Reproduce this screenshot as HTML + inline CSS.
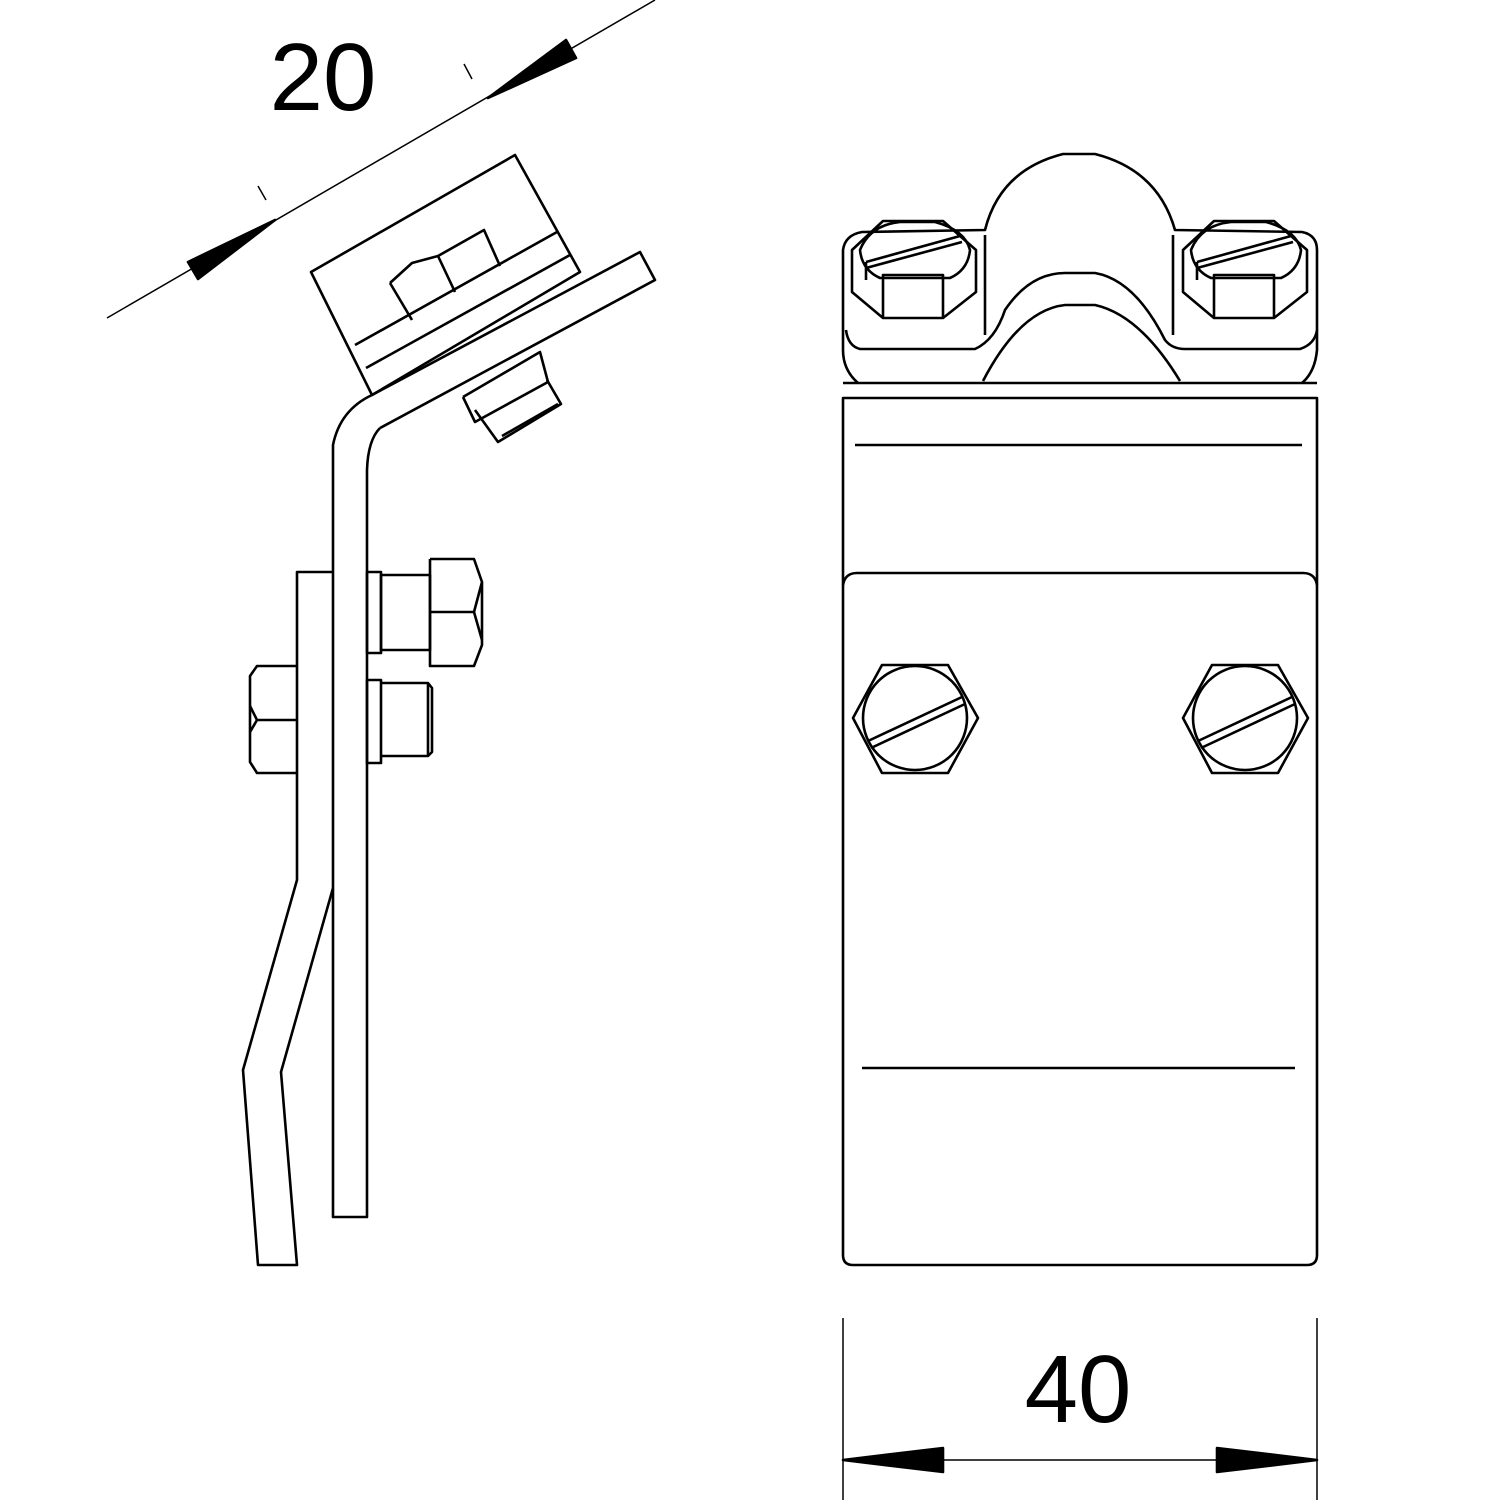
<!DOCTYPE html>
<html><head><style>html,body{margin:0;padding:0;background:#fff}svg{display:block}</style></head>
<body>
<svg width="1500" height="1500" viewBox="0 0 1500 1500" xmlns="http://www.w3.org/2000/svg">
<g fill="none" stroke="#000" stroke-width="2.6" stroke-linejoin="round">
<!-- dimension 20 -->
<line x1="107" y1="318" x2="655" y2="0" stroke-width="1.5"/>
<line x1="258" y1="186" x2="266" y2="200" stroke-width="1.5"/>
<line x1="464" y1="64" x2="472" y2="79" stroke-width="1.5"/>
<polygon points="275,220 188,262 198,279" fill="#000"/>
<polygon points="488,98 566,40 576,58" fill="#000"/>
<!-- block -->
<polygon points="311,272 515,155 580,272 372,395"/>
<line x1="355" y1="345" x2="557" y2="232"/>
<line x1="366" y1="368" x2="570" y2="255"/>
<!-- nut on block -->
<polyline points="390,283 412,320"/>
<polyline points="390,283 412,263 438,256 484,230 500,266"/>
<line x1="438" y1="256" x2="455" y2="292"/>
<!-- plate top -->
<polyline points="372,395 640,252 655,280 380,428"/>
<!-- bent bar -->
<path d="M372,395 Q340,410 333,445 L333,1217 L367,1217 L367,470 Q368,440 380,428"/>
<!-- bolt below plate -->
<polyline points="463,397 540,352 548,382 475,422 463,397"/>
<polyline points="475,410 498,442 561,404 547,380"/>
<line x1="502" y1="436" x2="558" y2="404"/>
<!-- lower plate -->
<polyline points="333,572 297,572 297,880 243,1070 258,1265 297,1265 281,1072 333,888"/>
<!-- upper bolt -->
<rect x="367" y="572" width="14" height="81"/>
<rect x="381" y="575" width="49" height="75"/>
<polyline points="430,559 474,559 482,582 482,645 474,666 430,666 430,559"/>
<polyline points="430,612 474,612 482,582"/>
<line x1="474" y1="612" x2="482" y2="640"/>
<!-- lower bolt -->
<rect x="367" y="680" width="14" height="83"/>
<polyline points="381,683 428,683 432,688 432,752 428,756 381,756"/>
<line x1="428" y1="683" x2="428" y2="756"/>
<!-- left nut -->
<polyline points="297,666 257,666 250,676 250,762 257,773 297,773"/>
<polyline points="297,720 257,720 250,706"/>
<line x1="257" y1="720" x2="250" y2="732"/>

<!-- right view body -->
<path d="M843,398 L1317,398 L1317,1255 Q1317,1265 1307,1265 L853,1265 Q843,1265 843,1255 Z"/>
<line x1="843" y1="383" x2="1317" y2="383"/>
<line x1="855" y1="445" x2="1302" y2="445"/>
<path d="M843,585 Q845,573 857,573 L1303,573 Q1315,573 1317,585"/>
<line x1="862" y1="1068" x2="1295" y2="1068"/>
<!-- top bracket outer -->
<path d="M858,383 Q843,370 843,350 L843,250 Q845,235 862,232 L985,230 Q1000,170 1063,154 L1095,154 Q1158,170 1175,230 L1302,232 Q1317,235 1317,250 L1317,350 Q1315,372 1302,383"/>
<path d="M846,330 Q848,346 860,349 L975,349 Q995,340 1005,310 Q1030,273 1065,273 L1095,273 Q1135,280 1165,340 Q1172,349 1185,349 L1300,349 Q1315,344 1317,330"/>
<path d="M983,381 Q1020,310 1065,305 L1095,305 Q1140,315 1180,381"/>
<line x1="985" y1="235" x2="985" y2="335"/>
<line x1="1173" y1="235" x2="1173" y2="335"/>
<!-- top bolts -->
<g id="tb">
<polygon points="852,250 852,292 883,318 943,318 976,292 976,250 943,221 883,221"/>
<path d="M860,250 Q870,225 900,222 L935,222 Q965,230 970,250 Q968,270 950,278 L880,278 Q862,270 860,250Z"/>
<polyline points="883,318 883,275 943,275 943,318"/>
<line x1="866" y1="262" x2="960" y2="236"/>
<line x1="866" y1="268" x2="962" y2="242"/>
<line x1="866" y1="262" x2="866" y2="280"/>
</g>
<use href="#tb" transform="translate(331,0)"/>
<!-- lower bolts -->
<g id="lb">
<polygon points="853,718 882,665 948,665 978,718 948,773 882,773"/>
<circle cx="915" cy="718" r="52"/>
<line x1="868" y1="741" x2="962" y2="697"/>
<line x1="871" y1="748" x2="965" y2="704"/>
</g>
<use href="#lb" transform="translate(330,0)"/>
<!-- dim 40 -->
<line x1="843" y1="1318" x2="843" y2="1500" stroke-width="1.5"/>
<line x1="1317" y1="1318" x2="1317" y2="1500" stroke-width="1.5"/>
<line x1="843" y1="1460" x2="1317" y2="1460" stroke-width="1.5"/>
<polygon points="843,1460 943,1448 943,1472" fill="#000"/>
<polygon points="1317,1460 1217,1448 1217,1472" fill="#000"/>
</g>
<text x="323" y="110" font-family="Liberation Sans, sans-serif" font-size="96" text-anchor="middle">20</text>
<text x="1078" y="1422" font-family="Liberation Sans, sans-serif" font-size="96" text-anchor="middle">40</text>
</svg>
</body></html>
